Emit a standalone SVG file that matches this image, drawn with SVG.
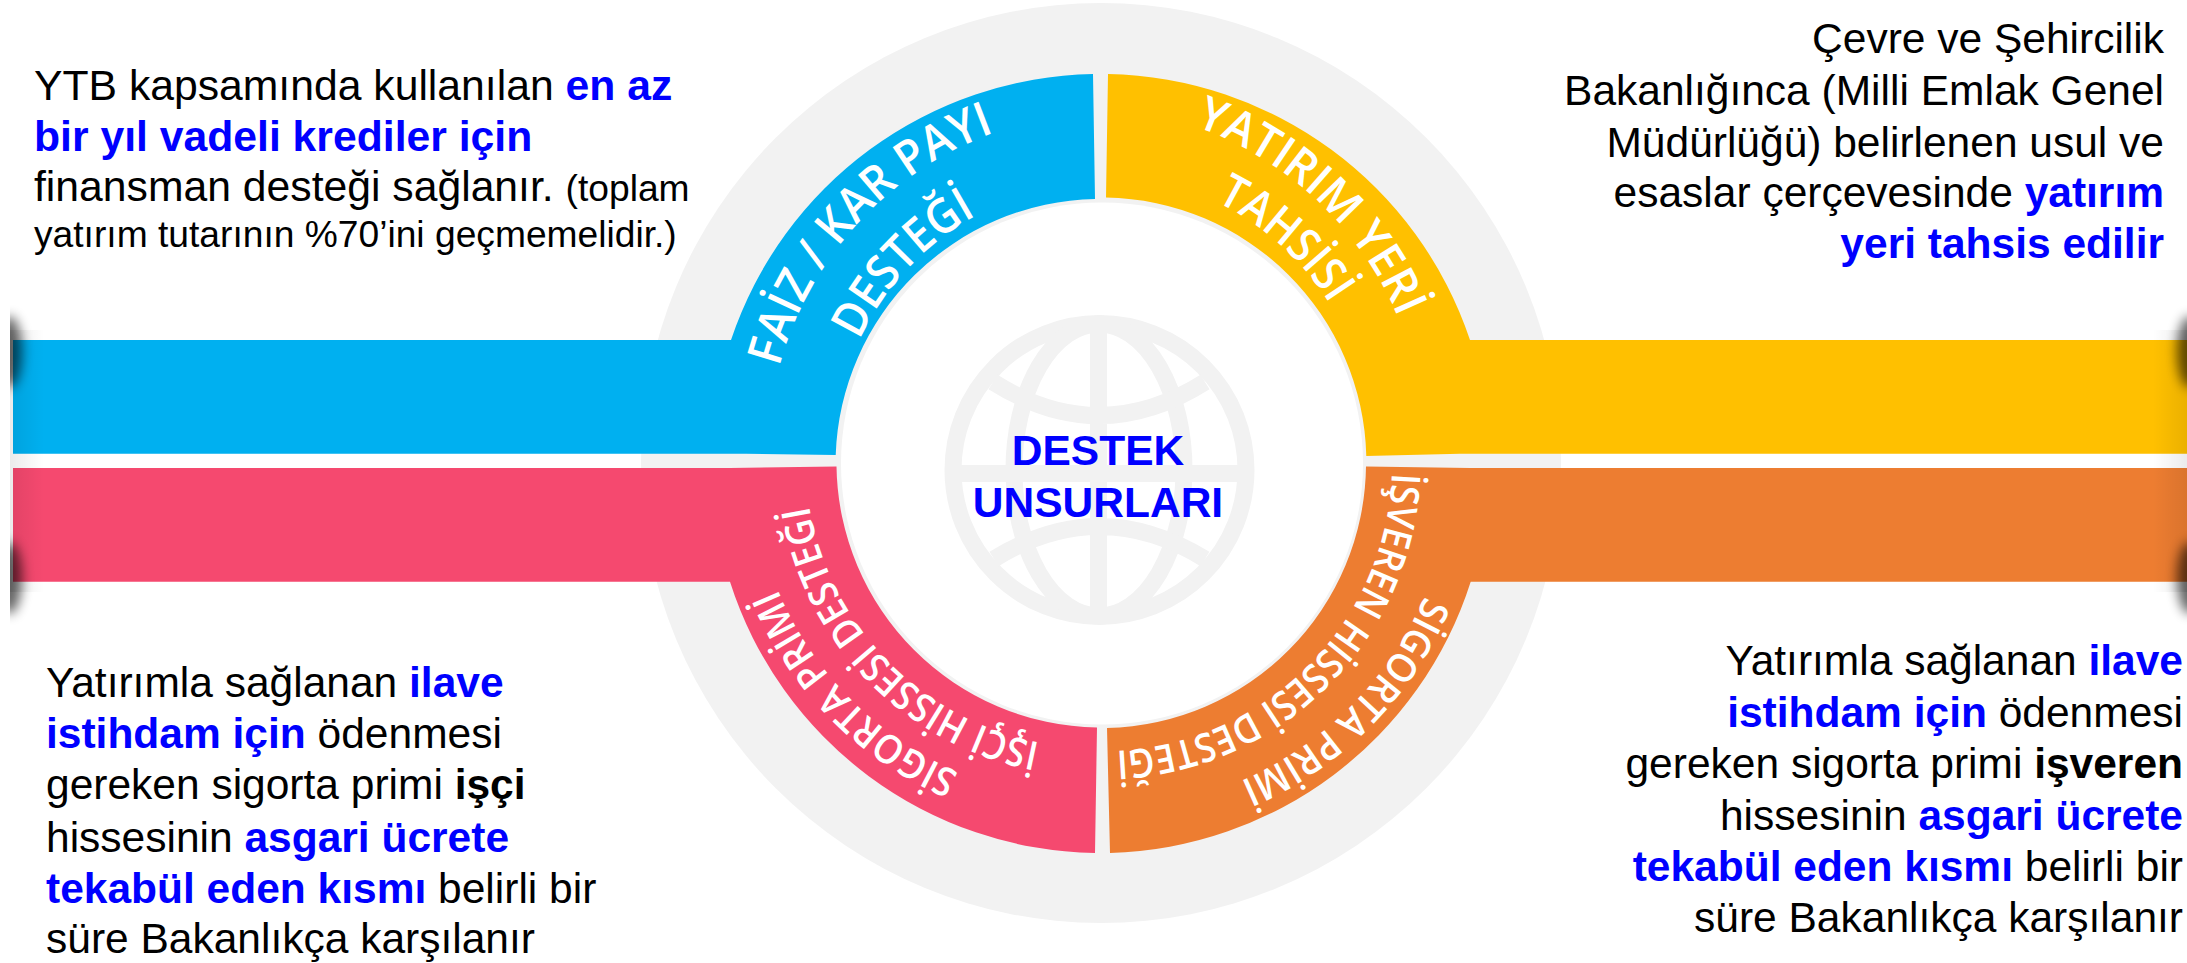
<svg xmlns="http://www.w3.org/2000/svg" width="2187" height="963" viewBox="0 0 2187 963">
<style>
.t{font-family:"Liberation Sans",Arial,sans-serif;font-size:42.5px;fill:#000}
.l{font-size:42.7px}
.s{font-size:37.2px}
.b{font-weight:700;fill:#0000ff}
.k{font-weight:700;fill:#000}
.e{text-anchor:end}
.r{font-family:"Open Sans","Noto Sans",sans-serif;font-weight:600;fill:#fff}
.c{font-family:"Liberation Sans",Arial,sans-serif;font-weight:700;font-size:42.5px;fill:#0000ff;text-anchor:middle}
.g{fill:none;stroke:#f2f2f2;stroke-width:17}
</style>
<defs>
<filter id="blur" x="-100%" y="-100%" width="300%" height="300%"><feGaussianBlur stdDeviation="6"/></filter>
<clipPath id="clipL"><rect x="10" y="280" width="70" height="370"/></clipPath>
<linearGradient id="fadeL" x1="0" x2="1" y1="0" y2="0"><stop offset="0" stop-color="#000" stop-opacity=".08"/><stop offset="1" stop-color="#000" stop-opacity="0"/></linearGradient>
<linearGradient id="fadeR" x1="1" x2="0" y1="0" y2="0"><stop offset="0" stop-color="#000" stop-opacity=".08"/><stop offset="1" stop-color="#000" stop-opacity="0"/></linearGradient>
<path id="p1a" d="M779 368A343 343 0 0 1 996 132"/>
<path id="p1b" d="M859 341A275 275 0 0 1 977 215"/>
<path id="p2a" d="M1194 126A343 343 0 0 1 1398 317"/>
<path id="p2b" d="M1215 201A281 281 0 0 1 1330 304"/>
<path id="p3a" d="M960 773A343 343 0 0 1 777 588"/>
<path id="p3b" d="M1041 743A290 290 0 0 1 809 505"/>
<path id="p4a" d="M1425 595A348 348 0 0 1 1238 782"/>
<path id="p4b" d="M1392 472A289 289 0 0 1 1114 751"/>
</defs>

<g id="ring">
<circle cx="1101" cy="463" r="460" fill="#f2f2f2"/>
<circle cx="1102" cy="463.5" r="261" fill="#fff"/>
</g>

<g id="center">
<circle class="g" cx="1099.5" cy="470" r="146.5"/>
<ellipse class="g" cx="1099" cy="470" rx="85" ry="146"/>
<path class="g" d="M1098.5 324V616M953 473.5H1246M993 382Q1099 449 1205 382M994 559Q1099 494 1205 559"/>
<text class="c" x="1098" y="465">DESTEK</text>
<text class="c" x="1098" y="517">UNSURLARI</text>
</g>

<g id="faiz">
<path fill="#00b0f0" d="M1093 74A389.5 389.5 0 0 0 731 340H13V453.7H746L835.7 455A265 265 0 0 1 1095 199Z"/>
<text class="r" font-size="48"><textPath href="#p1a" startOffset="1" textLength="331" lengthAdjust="spacingAndGlyphs">FAİZ / KAR PAYI</textPath></text>
<text class="r" font-size="48"><textPath href="#p1b" startOffset="1" textLength="174" lengthAdjust="spacingAndGlyphs">DESTEĞİ</textPath></text>
</g>

<g id="yatirim">
<path fill="#ffc000" d="M1108 74A389.5 389.5 0 0 1 1470 340H2187V453.7H1460L1366.3 456A265 265 0 0 0 1106 197.5Z"/>
<text class="r" font-size="47"><textPath href="#p2a" startOffset="1" textLength="287" lengthAdjust="spacingAndGlyphs">YATIRIM YERİ</textPath></text>
<text class="r" font-size="47"><textPath href="#p2b" startOffset="1" textLength="155" lengthAdjust="spacingAndGlyphs">TAHSİSİ</textPath></text>
</g>

<g id="isci">
<path fill="#f5496f" d="M13 468H730L836.5 466.5A265 265 0 0 0 1097 727.5L1095 853A389.5 389.5 0 0 1 730 581.7H13Z"/>
<text class="r" font-size="40"><textPath href="#p3a" startOffset="1" textLength="265" lengthAdjust="spacingAndGlyphs">SİGORTA PRİMİ</textPath></text>
<text class="r" font-size="40"><textPath href="#p3b" startOffset="1" textLength="352" lengthAdjust="spacingAndGlyphs">İŞÇİ HİSSESİ DESTEĞİ</textPath></text>
</g>

<g id="isveren">
<path fill="#ed7d31" d="M2187 468H1470L1366 466.5A265 265 0 0 1 1107 728L1110 853A389.5 389.5 0 0 0 1470.7 581.7H2187Z"/>
<text class="r" font-size="40"><textPath href="#p4a" startOffset="1" textLength="268" lengthAdjust="spacingAndGlyphs">SİGORTA PRİMİ</textPath></text>
<text class="r" font-size="40"><textPath href="#p4b" startOffset="1" textLength="430" lengthAdjust="spacingAndGlyphs">İŞVEREN HİSSESİ DESTEĞİ</textPath></text>
</g>

<g id="curl-left" clip-path="url(#clipL)">
<rect x="10" y="330" width="34" height="262" fill="url(#fadeL)"/>
<ellipse cx="9" cy="352" rx="13" ry="36" fill="#000" opacity=".6" filter="url(#blur)"/>
<ellipse cx="9" cy="578" rx="13" ry="36" fill="#000" opacity=".6" filter="url(#blur)"/>
</g>
<g id="curl-right">
<rect x="2153" y="330" width="34" height="262" fill="url(#fadeR)"/>
<ellipse cx="2190" cy="352" rx="13" ry="36" fill="#000" opacity=".6" filter="url(#blur)"/>
<ellipse cx="2190" cy="578" rx="13" ry="36" fill="#000" opacity=".6" filter="url(#blur)"/>
</g>

<g id="note-top-left">
<text class="t l" x="34" y="100">YTB kapsamında kullanılan <tspan class="b">en az</tspan></text>
<text class="t l b" x="34" y="151">bir yıl vadeli krediler için</text>
<text class="t l" x="34" y="201">finansman desteği sağlanır. <tspan class="s">(toplam</tspan></text>
<text class="t s" x="34" y="247">yatırım tutarının %70’ini geçmemelidir.)</text>
</g>
<g id="note-top-right">
<text class="t e" x="2164" y="53">Çevre ve Şehircilik</text>
<text class="t e" x="2164" y="105">Bakanlığınca (Milli Emlak Genel</text>
<text class="t e" x="2164" y="157">Müdürlüğü) belirlenen usul ve</text>
<text class="t e" x="2164" y="207">esaslar çerçevesinde <tspan class="b">yatırım</tspan></text>
<text class="t e b" x="2164" y="258">yeri tahsis edilir</text>
</g>
<g id="note-bottom-left">
<text class="t" x="46" y="697">Yatırımla sağlanan <tspan class="b">ilave</tspan></text>
<text class="t" x="46" y="748"><tspan class="b">istihdam için</tspan> ödenmesi</text>
<text class="t" x="46" y="799">gereken sigorta primi <tspan class="k">işçi</tspan></text>
<text class="t" x="46" y="852">hissesinin <tspan class="b">asgari ücrete</tspan></text>
<text class="t" x="46" y="903"><tspan class="b">tekabül eden kısmı</tspan> belirli bir</text>
<text class="t" x="46" y="953">süre Bakanlıkça karşılanır</text>
</g>
<g id="note-bottom-right">
<text class="t e" x="2183" y="675">Yatırımla sağlanan <tspan class="b">ilave</tspan></text>
<text class="t e" x="2183" y="727"><tspan class="b">istihdam için</tspan> ödenmesi</text>
<text class="t e" x="2183" y="778">gereken sigorta primi <tspan class="k">işveren</tspan></text>
<text class="t e" x="2183" y="830">hissesinin <tspan class="b">asgari ücrete</tspan></text>
<text class="t e" x="2183" y="881"><tspan class="b">tekabül eden kısmı</tspan> belirli bir</text>
<text class="t e" x="2183" y="932">süre Bakanlıkça karşılanır</text>
</g>
</svg>
